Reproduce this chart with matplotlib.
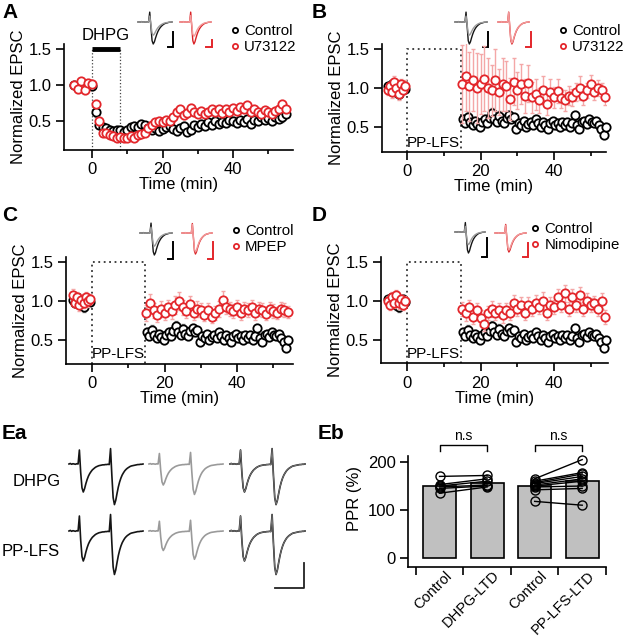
import numpy as np
import matplotlib
matplotlib.use("Agg")
import matplotlib.pyplot as plt
from matplotlib.transforms import ScaledTranslation

plt.rcParams["font.family"] = ["Liberation Sans", "DejaVu Sans"]
plt.rcParams["font.size"] = 12
plt.rcParams["axes.linewidth"] = 1.2

W, H = 625, 640
RED = "#e3262b"
PINK = "#f4a7a7"
GREY_ERR = "#8c8c8c"

# ── data: panel A (DHPG-LTD, 1-min bins) ─────────────────────────────────────
time_a = np.arange(-5, 56)
ctrl_a = [1.00, 0.97, 1.03, 0.99, 1.02, 0.98,
          0.62, 0.45, 0.42, 0.40, 0.38, 0.36, 0.38, 0.37, 0.35, 0.38,
          0.41, 0.43, 0.42, 0.46, 0.44, 0.40, 0.37, 0.40, 0.36, 0.39,
          0.41, 0.43, 0.39, 0.36, 0.40, 0.43, 0.35, 0.38, 0.44, 0.42,
          0.46, 0.43, 0.48, 0.45, 0.50, 0.46, 0.49, 0.47, 0.52, 0.50,
          0.47, 0.52, 0.49, 0.53, 0.46, 0.52, 0.50, 0.55, 0.52, 0.54,
          0.50, 0.56, 0.53, 0.55, 0.60]
ctrl_a_sem = [0.04, 0.05, 0.04, 0.05, 0.04, 0.05,
              0.06, 0.05, 0.05, 0.04, 0.04, 0.04, 0.05, 0.04, 0.04, 0.05,
              0.05, 0.05, 0.04, 0.05, 0.05, 0.05, 0.04, 0.05, 0.05, 0.04,
              0.05, 0.05, 0.04, 0.05, 0.05, 0.05, 0.05, 0.06, 0.05, 0.05,
              0.05, 0.05, 0.05, 0.06, 0.05, 0.05, 0.05, 0.05, 0.05, 0.06,
              0.05, 0.05, 0.05, 0.05, 0.05, 0.05, 0.05, 0.06, 0.05, 0.05,
              0.05, 0.05, 0.05, 0.06, 0.05]
u73_a = [1.00, 0.95, 1.05, 0.93, 1.03, 1.02,
         0.74, 0.50, 0.33, 0.34, 0.30, 0.29, 0.27, 0.28, 0.26, 0.27,
         0.29, 0.27, 0.30, 0.32, 0.34, 0.40, 0.45, 0.48, 0.50, 0.49,
         0.52, 0.50, 0.55, 0.62, 0.66, 0.58, 0.61, 0.68, 0.62, 0.60,
         0.64, 0.60, 0.63, 0.66, 0.62, 0.66, 0.61, 0.67, 0.63, 0.68,
         0.64, 0.70, 0.66, 0.72, 0.62, 0.66, 0.63, 0.60, 0.65, 0.62,
         0.60, 0.64, 0.66, 0.74, 0.66]
u73_a_sem = [0.05, 0.06, 0.05, 0.06, 0.05, 0.05,
             0.05, 0.05, 0.04, 0.04, 0.04, 0.04, 0.03, 0.04, 0.03, 0.04,
             0.04, 0.03, 0.04, 0.04, 0.04, 0.05, 0.05, 0.05, 0.05, 0.05,
             0.05, 0.05, 0.05, 0.06, 0.05, 0.05, 0.05, 0.06, 0.05, 0.05,
             0.05, 0.05, 0.05, 0.05, 0.05, 0.05, 0.05, 0.05, 0.05, 0.05,
             0.05, 0.05, 0.05, 0.06, 0.05, 0.05, 0.05, 0.05, 0.05, 0.05,
             0.05, 0.05, 0.05, 0.05, 0.05]

# ── data: panels B-D (PP-LFS-LTD) ────────────────────────────────────────────
time_base = np.linspace(-5.3, -0.5, 9)
time_ctrl_post = np.linspace(15.2, 54.2, 60)
time_drug_post = np.arange(15, 55)

ctrl_base = [1.02, 0.98, 1.05, 1.00, 0.95, 0.92, 1.00, 1.03, 0.99]
ctrl_base_sem = [0.05, 0.06, 0.05, 0.07, 0.06, 0.06, 0.06, 0.05, 0.05]
ctrl_post = [0.60, 0.55, 0.63, 0.57, 0.52, 0.58, 0.54, 0.50, 0.56, 0.60,
             0.55, 0.62, 0.68, 0.60, 0.56, 0.64, 0.58, 0.55, 0.62, 0.65,
             0.60, 0.63, 0.47, 0.55, 0.52, 0.58, 0.50, 0.54, 0.57, 0.52,
             0.60, 0.55, 0.50, 0.56, 0.53, 0.48, 0.55, 0.58, 0.52, 0.55,
             0.50, 0.56, 0.53, 0.57, 0.50, 0.55, 0.65, 0.52, 0.48, 0.56,
             0.58, 0.54, 0.60, 0.57, 0.55, 0.58, 0.52, 0.48, 0.40, 0.50]
ctrl_post_sem = [0.06, 0.05, 0.06, 0.05, 0.05, 0.05, 0.06, 0.05, 0.05, 0.06,
                 0.05, 0.06, 0.06, 0.05, 0.05, 0.06, 0.05, 0.05, 0.05, 0.06,
                 0.05, 0.05, 0.05, 0.05, 0.05, 0.05, 0.05, 0.05, 0.05, 0.05,
                 0.05, 0.05, 0.05, 0.05, 0.05, 0.05, 0.05, 0.05, 0.05, 0.05,
                 0.05, 0.05, 0.05, 0.05, 0.05, 0.05, 0.06, 0.05, 0.05, 0.05,
                 0.05, 0.05, 0.06, 0.05, 0.05, 0.05, 0.05, 0.05, 0.05, 0.05]

u73_base = [0.98, 1.02, 0.95, 1.08, 1.00, 0.92, 1.05, 0.97, 1.03]
u73_base_sem = [0.07, 0.06, 0.08, 0.07, 0.08, 0.08, 0.07, 0.06, 0.07]
u73_post = [1.05, 1.15, 1.02, 1.10, 1.00, 1.05, 1.12, 1.00, 0.97, 1.10,
            0.95, 1.05, 1.02, 0.86, 1.08, 0.97, 1.05, 0.90, 1.06, 0.88,
            0.92, 0.84, 0.98, 0.80, 0.95, 0.88, 0.96, 0.87, 0.84, 0.90,
            0.88, 0.95, 1.00, 0.90, 0.97, 1.05, 0.95, 1.00, 0.98, 0.88]
u73_post_sem = [0.50, 0.45, 0.44, 0.40, 0.45, 0.38, 0.42, 0.38, 0.33, 0.40,
                0.30, 0.34, 0.32, 0.27, 0.30, 0.24, 0.26, 0.22, 0.24, 0.20,
                0.20, 0.16, 0.18, 0.15, 0.16, 0.13, 0.15, 0.12, 0.13, 0.12,
                0.11, 0.12, 0.15, 0.12, 0.10, 0.12, 0.10, 0.10, 0.09, 0.10]

mpep_base = [1.08, 0.98, 1.05, 0.95, 1.02, 0.97, 1.05, 1.00, 1.03]
mpep_base_sem = [0.07, 0.06, 0.07, 0.08, 0.07, 0.06, 0.07, 0.08, 0.06]
mpep_post = [0.85, 0.97, 0.88, 0.82, 0.90, 0.85, 0.92, 0.87, 0.95, 1.00,
             0.92, 0.87, 0.96, 0.85, 0.90, 0.88, 0.82, 0.88, 0.80, 0.85,
             0.90, 1.02, 0.93, 0.90, 0.87, 0.92, 0.85, 0.90, 0.88, 0.92,
             0.85, 0.90, 0.88, 0.84, 0.90, 0.87, 0.85, 0.90, 0.88, 0.86]
mpep_post_sem = [0.10, 0.12, 0.10, 0.09, 0.10, 0.09, 0.10, 0.10, 0.11, 0.12,
                 0.10, 0.09, 0.10, 0.09, 0.10, 0.09, 0.08, 0.09, 0.08, 0.09,
                 0.10, 0.11, 0.10, 0.09, 0.09, 0.10, 0.09, 0.09, 0.09, 0.10,
                 0.09, 0.09, 0.09, 0.08, 0.09, 0.09, 0.08, 0.09, 0.09, 0.08]

nimo_base = [1.00, 0.95, 1.05, 0.98, 1.08, 0.97, 1.02, 0.95, 1.00]
nimo_base_sem = [0.06, 0.07, 0.06, 0.07, 0.06, 0.07, 0.06, 0.07, 0.06]
nimo_post = [0.90, 0.85, 0.92, 0.80, 0.88, 0.78, 0.70, 0.85, 0.90, 0.85,
             0.88, 0.82, 0.88, 0.85, 0.98, 0.90, 0.95, 0.85, 0.95, 0.90,
             0.98, 0.92, 1.00, 0.85, 0.95, 0.92, 1.05, 0.95, 1.10, 0.90,
             1.05, 0.95, 1.08, 0.90, 1.00, 0.95, 0.98, 0.90, 1.00, 0.80]
nimo_post_sem = [0.09, 0.10, 0.09, 0.10, 0.09, 0.10, 0.09, 0.09, 0.10, 0.09,
                 0.09, 0.10, 0.09, 0.09, 0.10, 0.09, 0.10, 0.09, 0.10, 0.09,
                 0.10, 0.09, 0.12, 0.09, 0.10, 0.09, 0.10, 0.09, 0.11, 0.09,
                 0.10, 0.09, 0.10, 0.09, 0.10, 0.09, 0.09, 0.09, 0.10, 0.09]

# ── data: example traces (normalised current, downward = inward) ──────────────
EPSC_WAVE = [0, 0.01, -0.01, 0.02, 0, 0.01, -0.01, 0, 0.01, 0,
             0.45, -0.2, -0.85, -1.0, -0.9, -0.72, -0.56, -0.43, -0.33, -0.25,
             -0.19, -0.14, -0.10, -0.07, -0.05, -0.04, -0.02, -0.01, -0.01, 0]
PP_WAVE = [0, 0.02, -0.01, 0.01, 0, -0.01, 0.01, 0,
           0.5, -0.3, -0.85, -1.0, -0.88, -0.7, -0.55, -0.43, -0.34, -0.27,
           -0.21, -0.17, -0.13, -0.10, -0.08, -0.06, -0.05, -0.04, -0.03,
           -0.03, -0.02, -0.02, -0.01, -0.02,
           0.55, -0.4, -1.2, -1.45, -1.3, -1.05, -0.82, -0.64, -0.5, -0.39,
           -0.31, -0.24, -0.19, -0.15, -0.12, -0.09, -0.07, -0.06, -0.05,
           -0.04, -0.03, -0.02, -0.02, -0.01, -0.01, 0]
INSET_AMP = {"A_ctrl": [1.0, 0.6], "A_drug": [1.0, 0.65],
             "lfs_ctrl": [1.0, 0.6], "B_drug": [1.0, 0.95],
             "C_drug": [1.0, 0.9], "D_drug": [1.0, 0.9]}
EA_AMP_DHPG = [1.0, 0.75]      # baseline, after LTD
EA_AMP_LFS = [1.0, 0.65]

# ── data: panel Eb (paired-pulse ratio) ──────────────────────────────────────
ppr_labels = ["Control", "DHPG-LTD", "Control", "PP-LFS-LTD"]
ppr_mean = [150, 157, 149, 160]
dhpg_ctrl = [170, 153, 150, 148, 145, 135]
dhpg_ltd = [172, 165, 160, 152, 150, 148]
lfs_ctrl = [165, 160, 157, 155, 152, 150, 148, 142, 118]
lfs_ltd = [205, 178, 175, 170, 165, 160, 150, 145, 110]

# ── figure ───────────────────────────────────────────────────────────────────
fig = plt.figure(figsize=(W / 100, H / 100), dpi=100)

ov = fig.add_axes([0, 0, 1, 1])
ov.set_xlim(0, W)
ov.set_ylim(H, 0)
ov.axis("off")


def px_axes(left, top, right, bottom):
    return fig.add_axes([left / W, 1 - bottom / H, (right - left) / W, (bottom - top) / H])


def time_axes(left, right, top, bottom, x0, xscale, y_half, yscale):
    ax = px_axes(left, top, right, bottom)
    ax.set_xlim((left - x0) / xscale, (right - x0) / xscale)
    ax.set_ylim(0.5 - (bottom - y_half) / yscale, 0.5 + (y_half - top) / yscale)
    ax.patch.set_visible(False)
    ax.spines[["top", "right"]].set_visible(False)
    ax.set_xticks([0, 20, 40])
    ax.set_xticks([10, 30, 50], minor=True)
    ax.set_yticks([0.5, 1.0, 1.5])
    ax.tick_params(which="major", length=6, width=1.2, pad=3)
    ax.tick_params(which="minor", length=3, width=1.2)
    ax.set_xlabel("Time (min)", labelpad=0)
    ax.set_ylabel("Normalized EPSC", labelpad=2)
    return ax


def series(ax, t, y, e, color, ecolor, z):
    ax.errorbar(t, y, yerr=e, fmt="none", ecolor=ecolor, elinewidth=1,
                capsize=1.5, capthick=1, zorder=z)
    line, = ax.plot(t, y, "o", ms=6, mfc="white", mec=color, mew=1.3,
                    zorder=z + 0.5, clip_on=False)
    return line


def legend(ax, handles, labels, x_px, y_px):
    ax.legend(handles, labels, loc="upper left",
              bbox_to_anchor=(x_px / W, 1 - y_px / H), bbox_transform=fig.transFigure,
              frameon=False, handlelength=0.6, handletextpad=0.35, labelspacing=0.15,
              borderpad=0, borderaxespad=0, markerscale=0.62, fontsize=10.8)


def inset(x0, x1, base, height, amps, colors):
    xs = np.linspace(x0, x1, len(EPSC_WAVE))
    for a, c in zip(amps, colors):
        ov.plot(xs, base - a * height * np.array(EPSC_WAVE), color=c, lw=1)


def scalebar(x, ytop, ybot, xleft, color):
    ov.plot([xleft, x, x], [ybot, ybot, ytop], color=color, lw=1.4,
            solid_joinstyle="miter")


def lfs_box(ax, label_y):
    lo = ax.get_ylim()[0]
    ax.plot([0, 0, 14.7, 14.7], [lo, 1.5, 1.5, lo], ls=(0, (1, 2)), color="#333333",
            lw=1.3, clip_on=False)
    ax.text(7.2, label_y, "PP-LFS", ha="center", va="center", fontsize=11)


DARK, LIGHT = "#151515", "#9a9a9a"
DRED, LRED = "#d92226", "#f29a9a"

# ── A ────────────────────────────────────────────────────────────────────────
axA = time_axes(64, 293, 44, 150, 92, 3.525, 121, 72)
h1 = series(axA, time_a, ctrl_a, ctrl_a_sem, "black", GREY_ERR, 2)
h2 = series(axA, time_a, u73_a, u73_a_sem, RED, PINK, 4)
lo = axA.get_ylim()[0]
axA.plot([0, 0], [lo, 1.5], ls=":", color="#444444", lw=0.9, clip_on=False)
axA.plot([8, 8], [lo, 1.5], ls=":", color="#444444", lw=0.9, clip_on=False)
axA.plot([0, 8], [1.5, 1.5], color="black", lw=3.5, solid_capstyle="butt", clip_on=False)
axA.text(4, 1.69, "DHPG", ha="center", va="center", fontsize=12)
legend(axA, [h1, h2], ["Control", "U73122"], 230, 24)
inset(138, 172, 22, 22, INSET_AMP["A_ctrl"], [DARK, LIGHT])
scalebar(173, 32, 47, 168, "black")
inset(180, 211, 22, 22, INSET_AMP["A_drug"], [DRED, LRED])
scalebar(212, 40, 47, 206, RED)

# ── B ────────────────────────────────────────────────────────────────────────
axB = time_axes(382, 606, 44, 152, 407, 3.675, 127, 78)
series(axB, time_base, ctrl_base, ctrl_base_sem, "black", GREY_ERR, 2)
h1 = series(axB, time_ctrl_post, ctrl_post, ctrl_post_sem, "black", GREY_ERR, 2)
series(axB, time_base, u73_base, u73_base_sem, RED, PINK, 4)
h2 = series(axB, time_drug_post, u73_post, u73_post_sem, RED, PINK, 4)
lfs_box(axB, 0.295)
legend(axB, [h1, h2], ["Control", "U73122"], 558, 24)
inset(455, 487, 22, 22, INSET_AMP["lfs_ctrl"], [DARK, LIGHT])
scalebar(488, 32, 47, 483, "black")
inset(498, 529, 22, 22, INSET_AMP["B_drug"], [DRED, LRED])
scalebar(531, 32, 47, 526, RED)

# ── C ────────────────────────────────────────────────────────────────────────
axC = time_axes(66, 293, 257, 364, 92, 3.625, 340, 77.7)
series(axC, time_base, ctrl_base, ctrl_base_sem, "black", GREY_ERR, 2)
h1 = series(axC, time_ctrl_post, ctrl_post, ctrl_post_sem, "black", GREY_ERR, 2)
series(axC, time_base, mpep_base, mpep_base_sem, RED, PINK, 4)
h2 = series(axC, time_drug_post, mpep_post, mpep_post_sem, RED, PINK, 4)
lfs_box(axC, 0.32)
legend(axC, [h1, h2], ["Control", "MPEP"], 231, 224)
inset(140, 172, 233, 22, INSET_AMP["lfs_ctrl"], [DARK, LIGHT])
scalebar(173, 242, 259, 168, "black")
inset(182, 212, 233, 21, INSET_AMP["C_drug"], [DRED, LRED])
scalebar(213, 242, 259, 208, RED)

# ── D ────────────────────────────────────────────────────────────────────────
axD = time_axes(381, 608, 257, 363, 407, 3.675, 340, 78)
series(axD, time_base, ctrl_base, ctrl_base_sem, "black", GREY_ERR, 2)
h1 = series(axD, time_ctrl_post, ctrl_post, ctrl_post_sem, "black", GREY_ERR, 2)
series(axD, time_base, nimo_base, nimo_base_sem, RED, PINK, 4)
h2 = series(axD, time_drug_post, nimo_post, nimo_post_sem, RED, PINK, 4)
lfs_box(axD, 0.32)
legend(axD, [h1, h2], ["Control", "Nimodipine"], 530, 222)
inset(455, 485, 232, 21, INSET_AMP["lfs_ctrl"], [DARK, LIGHT])
scalebar(487, 238, 257, 482, "black")
inset(495, 526, 233, 19, INSET_AMP["D_drug"], [DRED, LRED])
scalebar(528, 243, 257, 523, RED)

# ── Ea: paired-pulse example traces ──────────────────────────────────────────
pp = np.array(PP_WAVE)
for base, unit, amps in [(464, 28, EA_AMP_DHPG), (531, 30, EA_AMP_LFS)]:
    cols = [(69, 143), (149, 223), (230, 305)]
    xs = [np.linspace(c0, c1, len(pp)) for c0, c1 in cols]
    ov.plot(xs[0], base - amps[0] * unit * pp, color=DARK, lw=1.2)
    ov.plot(xs[1], base - amps[1] * unit * pp, color=LIGHT, lw=1.2)
    # scaled overlay
    ov.plot(xs[2], base - amps[0] * unit * pp, color=DARK, lw=1.2)
    ov.plot(xs[2], base - amps[1] / amps[1] * unit * pp, color="#777777", lw=0.7)
ov.text(37, 481, "DHPG", ha="center", va="center", fontsize=12)
ov.text(31, 551, "PP-LFS", ha="center", va="center", fontsize=12)
ov.plot([275, 304, 304], [588, 588, 563], color="#222222", lw=1.3)

# ── Eb: PPR bars ─────────────────────────────────────────────────────────────
axE = px_axes(408, 430, 606, 567)
axE.set_xlim(-0.663, 3.5)
axE.set_ylim(-18.75, 266.7)
axE.patch.set_visible(False)
axE.spines[["top", "right"]].set_visible(False)
axE.spines["left"].set_bounds(-18.75, 212)
axE.bar(range(4), ppr_mean, width=0.69, color="#c0c0c0", edgecolor="black", lw=1.2)
for c, l in zip(dhpg_ctrl, dhpg_ltd):
    axE.plot([0, 1], [c, l], "o-", color="black", ms=6.5, mfc="none", mew=1, lw=1)
for c, l in zip(lfs_ctrl, lfs_ltd):
    axE.plot([2, 3], [c, l], "o-", color="black", ms=6.5, mfc="none", mew=1, lw=1)
for x0 in (0, 2):
    axE.plot([x0, x0, x0 + 1, x0 + 1], [222, 235, 235, 222], color="black", lw=1,
             clip_on=False)
    axE.text(x0 + 0.5, 240, "n.s", ha="center", va="bottom", fontsize=10)
axE.set_yticks([0, 100, 200])
axE.set_xticks([-0.5, 0.5, 1.5, 2.5, 3.5], [])
axE.set_xticks(range(4), ppr_labels, minor=True, fontsize=10.5)
axE.tick_params(which="major", length=6, width=1.2, pad=3)
axE.tick_params(which="minor", axis="x", length=0, pad=1)
shift = ScaledTranslation(5 / 100, 0, fig.dpi_scale_trans)
for lab in axE.get_xticklabels(minor=True):
    lab.set_rotation(45)
    lab.set_ha("right")
    lab.set_va("top")
    lab.set_rotation_mode("anchor")
    lab.set_transform(lab.get_transform() + shift)
axE.set_ylabel("PPR (%)", labelpad=4)

# ── panel letters ────────────────────────────────────────────────────────────
for x, y, s in [(2, 3, "A"), (312, 3, "B"), (2, 206, "C"), (312, 206, "D"),
                (2, 424, "Ea"), (318, 424, "Eb")]:
    ov.text(x, y, s, ha="left", va="top", fontsize=15, fontweight="bold")

fig.savefig("out.png", dpi=100)
